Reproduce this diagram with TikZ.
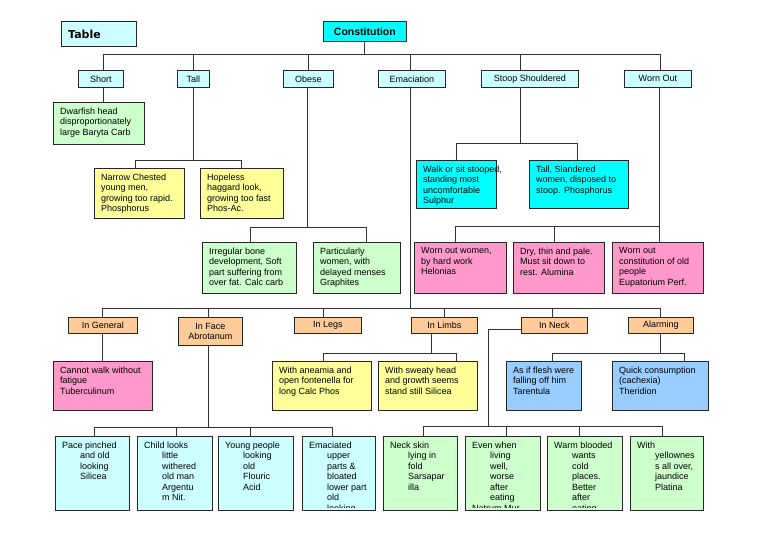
\documentclass[tikz,border=0pt]{standalone}
\usepackage{fontspec}
\setmainfont{Liberation Sans}
\newfontfamily\tablefont{DejaVu Sans}
\usetikzlibrary{calc}
\definecolor{lcyan}{HTML}{CCFFFF}
\definecolor{cyanb}{HTML}{00FFFF}
\definecolor{lgreen}{HTML}{CCFFCC}
\definecolor{lyellow}{HTML}{FFFF99}
\definecolor{lpink}{HTML}{FF99CC}
\definecolor{lorange}{HTML}{FFCC99}
\definecolor{lblue}{HTML}{99CCFF}
\tikzset{
  bx/.style={draw=black!85, line width=0.8pt, inner sep=0pt, anchor=north west},
  conn/.style={draw=black!80, line width=0.85pt},
  txt/.style={inner sep=0pt, anchor=north west, align=left, font=\fontsize{9}{10.5}\selectfont},
  lbl/.style={font=\fontsize{9}{10.5}\selectfont, align=center},
}
% text box: name, x1, y1, x2, y2, fill, text
\newcommand\tbox[7]{%
  \node[bx, fill=#6, minimum width=#4pt-#2pt, minimum height=#5pt-#3pt] (#1) at (#2,#3) {};
  \begin{scope}
    \clip ([xshift=1pt,yshift=-1pt]#1.north west) rectangle ([xshift=30pt,yshift=3pt]#1.south east);
    \node[txt] at ([xshift=7pt,yshift=-5.4pt]#1.north west) {#7};
  \end{scope}}
% label box: name, x1, y1, x2, y2, fill, text
\newcommand\lbox[7]{%
  \node[bx, lbl, fill=#6, minimum width=#4pt-#2pt, minimum height=#5pt-#3pt] (#1) at (#2,#3) {#7};}
\newcommand\ind{\hspace*{18pt}}
\begin{document}
\begin{tikzpicture}[x=1pt,y=-1pt]
\fill[white] (0,0) rectangle (768,543);
\useasboundingbox (0,0) rectangle (768,543);

% title boxes
\node[bx, fill=lcyan, minimum width=75pt, minimum height=25pt] (table) at (61,21) {};
\node[anchor=west, inner sep=0pt, font=\fontsize{11}{13}\selectfont\tablefont\bfseries] at ([xshift=7pt,yshift=-0.5pt]table.west) {Table};
\lbox{const}{323}{21}{406}{41}{cyanb}{\fontsize{10.5}{12}\selectfont\bfseries Constitution}

% level 1
\lbox{short}{78}{70}{123}{87}{lcyan}{Short}
\lbox{tall}{177}{70}{209}{87}{lcyan}{Tall}
\lbox{obese}{283}{70}{333}{87}{lcyan}{Obese}
\lbox{emac}{378}{70}{445}{87}{lcyan}{Emaciation}
\lbox{stoop}{481}{70}{578}{87}{lcyan}{Stoop Shouldered}
\lbox{worn}{624}{70}{691}{87}{lcyan}{Worn Out}

% children of level 1
\tbox{dwarf}{53}{102}{144}{144}{lgreen}{Dwarfish head\\disproportionately\\large Baryta Carb}
\tbox{narrow}{94}{168}{184}{218}{lyellow}{Narrow Chested\\young men,\\growing too rapid.\\Phosphorus}
\tbox{hopeless}{200}{168}{283}{218}{lyellow}{Hopeless\\haggard look,\\growing too fast\\Phos-Ac.}
\tbox{walk}{416}{160}{496}{208}{cyanb}{Walk or sit stooped,\\standing most\\uncomfortable\\Sulphur}
\tbox{tslander}{529}{160}{628}{208}{cyanb}{Tall, Slandered\\women, disposed to\\stoop. Phosphorus}
\tbox{irreg}{202}{242}{296}{293}{lgreen}{Irregular bone\\development, Soft\\part suffering from\\over fat. Calc carb}
\tbox{partic}{313}{242}{400}{293}{lgreen}{Particularly\\women, with\\delayed menses\\Graphites}
\tbox{wwomen}{414}{242}{506}{293}{lpink}{Worn out women,\\by hard work\\Helonias}
\tbox{dry}{513}{242}{604}{293}{lpink}{Dry, thin and pale.\\Must sit down to\\rest. Alumina}
\tbox{eupat}{612}{242}{703}{293}{lpink}{Worn out\\constitution of old\\people\\Eupatorium Perf.}

% level 2 (Emaciation)
\lbox{gen}{68}{317}{137}{333}{lorange}{In General}
\lbox{face}{178}{317}{242}{345}{lorange}{In Face\\Abrotanum}
\lbox{legs}{294}{317}{361}{333}{lorange}{In Legs}
\lbox{limbs}{411}{317}{477}{333}{lorange}{In Limbs}
\lbox{neck}{521}{317}{587}{333}{lorange}{In Neck}
\lbox{alarm}{628}{317}{693}{333}{lorange}{Alarming}

\tbox{cannot}{53}{361}{152}{410}{lpink}{Cannot walk without\\fatigue\\Tuberculinum}
\tbox{anaemia}{272}{361}{371}{410}{lyellow}{With aneamia and\\open fontenella for\\long Calc Phos}
\tbox{sweaty}{378}{361}{477}{410}{lyellow}{With sweaty head\\and growth seems\\stand still Silicea}
\tbox{asif}{506}{361}{581}{410}{lblue}{As if flesh were\\falling off him\\Tarentula}
\tbox{quick}{612}{361}{708}{410}{lblue}{Quick consumption\\(cachexia)\\Theridion}

% bottom rows
\tbox{pace}{55}{436}{129}{510}{lcyan}{Pace pinched\\\ind and old\\\ind looking\\\ind Silicea}
\tbox{child}{137}{436}{212}{510}{lcyan}{Child looks\\\ind little\\\ind withered\\\ind old man\\\ind Argentu\\\ind m Nit.}
\tbox{young}{218}{436}{293}{510}{lcyan}{Young people\\\ind looking\\\ind old\\\ind Flouric\\\ind Acid}
\tbox{emacb}{302}{436}{375}{510}{lcyan}{Emaciated\\\ind upper\\\ind parts \&\\\ind bloated\\\ind lower part\\\ind old\\\ind looking}
\tbox{neckskin}{383}{436}{457}{510}{lgreen}{Neck skin\\\ind lying in\\\ind fold\\\ind Sarsapar\\\ind illa}
\tbox{even}{465}{436}{540}{510}{lgreen}{Even when\\\ind living\\\ind well,\\\ind worse\\\ind after\\\ind eating\\Natrum Mur}
\tbox{warm}{547}{436}{622}{510}{lgreen}{Warm blooded\\\ind wants\\\ind cold\\\ind places.\\\ind Better\\\ind after\\\ind eating}
\tbox{withy}{630}{436}{703}{510}{lgreen}{With\\\ind yellownes\\\ind s all over,\\\ind jaundice\\\ind Platina}

% ---- connectors ----
% Constitution
\coordinate (cb) at ($(const.south)+(0,13)$);
\draw[conn] (const.south) -- (cb);
\draw[conn] ([xshift=2.5pt]short.north) |- (cb);
\draw[conn] (tall.north) |- (cb);
\draw[conn] (obese.north) |- (cb);
\draw[conn] ([xshift=-1.5pt]emac.north) |- (cb);
\draw[conn] ([xshift=-9pt]stoop.north) |- (cb);
\draw[conn] ([xshift=2.5pt]worn.north) |- (cb);

% Short
\draw[conn] ([xshift=2.5pt]short.south) -- ([xshift=2.5pt]short.south |- dwarf.north);
% Tall
\coordinate (tb) at ($(tall.south)+(0,73)$);
\draw[conn] (tall.south) -- (tb);
\draw[conn] ([xshift=-4pt]narrow.north) |- (tb);
\draw[conn] (hopeless.north) |- (tb);
% Obese
\coordinate (ob) at ($([xshift=-1pt]obese.south)+(0,140)$);
\draw[conn] ([xshift=-1pt]obese.south) -- (ob);
\draw[conn] ([xshift=1pt]irreg.north) |- (ob);
\draw[conn] ([xshift=9.5pt]partic.north) |- (ob);
% Stoop
\coordinate (sb) at ($([xshift=-9pt]stoop.south)+(0,56)$);
\draw[conn] ([xshift=-9pt]stoop.south) -- (sb);
\draw[conn] (walk.north) |- (sb);
\draw[conn] ([xshift=-1.5pt]tslander.north) |- (sb);
% Worn out
\coordinate (wb) at ($([xshift=2pt]worn.south)+(0,139)$);
\draw[conn] ([xshift=2pt]worn.south) -- ([xshift=2pt]worn.south |- eupat.north);
\draw[conn] ([xshift=-5pt]wwomen.north) |- (wb);
\draw[conn] ([xshift=-4.5pt]dry.north) |- (wb);

% Emaciation
\coordinate (eb) at ($([xshift=-1.5pt]emac.south)+(0,221)$);
\draw[conn] ([xshift=-1.5pt]emac.south) -- (eb);
\draw[conn] (gen.north) |- (eb);
\draw[conn] ([xshift=-2pt]face.north) |- (eb);
\draw[conn] ([xshift=-4.5pt]legs.north) |- (eb);
\draw[conn] (limbs.north) |- (eb);
\draw[conn] ([xshift=-2pt]neck.north) |- (eb);
\draw[conn] (alarm.north) |- (eb);

% In General
\draw[conn] (gen.south) -- (gen.south |- cannot.north);
% In Limbs
\coordinate (lb) at ($([xshift=-13pt]limbs.south)+(0,20)$);
\draw[conn] ([xshift=-13pt]limbs.south) -- (lb);
\draw[conn] ([xshift=1.5pt]anaemia.north) |- (lb);
\draw[conn] ([xshift=28.5pt]sweaty.north) |- (lb);
% Alarming
\coordinate (ab) at ($(alarm.south)+(0,20)$);
\draw[conn] (alarm.south) -- (ab);
\draw[conn] ([xshift=8.5pt]asif.north) |- (ab);
\draw[conn] ([xshift=24pt]quick.north) |- (ab);
% In Face
\coordinate (fb) at ($([xshift=-2pt]face.south)+(0,82)$);
\draw[conn] ([xshift=-2pt]face.south) -- (fb);
\draw[conn] ([xshift=2pt]pace.north) |- (fb);
\draw[conn] ([xshift=1.5pt]child.north) |- (fb);
\draw[conn] ([xshift=-5.5pt]young.north) |- (fb);
\draw[conn] ([xshift=-6.5pt]emacb.north) |- (fb);
% In Neck
\coordinate (nc) at ($(neck.west)+(-33,4)$);
\coordinate (nb) at ($(nc)+(0,97)$);
\draw[conn] ([yshift=-4pt]neck.west) -- (nc) -- (nb);
\draw[conn] ([xshift=3pt]neckskin.north) |- (nb);
\draw[conn] ([xshift=3.5pt]even.north) |- (nb);
\draw[conn] ([xshift=-5.5pt]warm.north) |- (nb);
\draw[conn] ([xshift=-4.5pt]withy.north) |- (nb);
\end{tikzpicture}
\end{document}
